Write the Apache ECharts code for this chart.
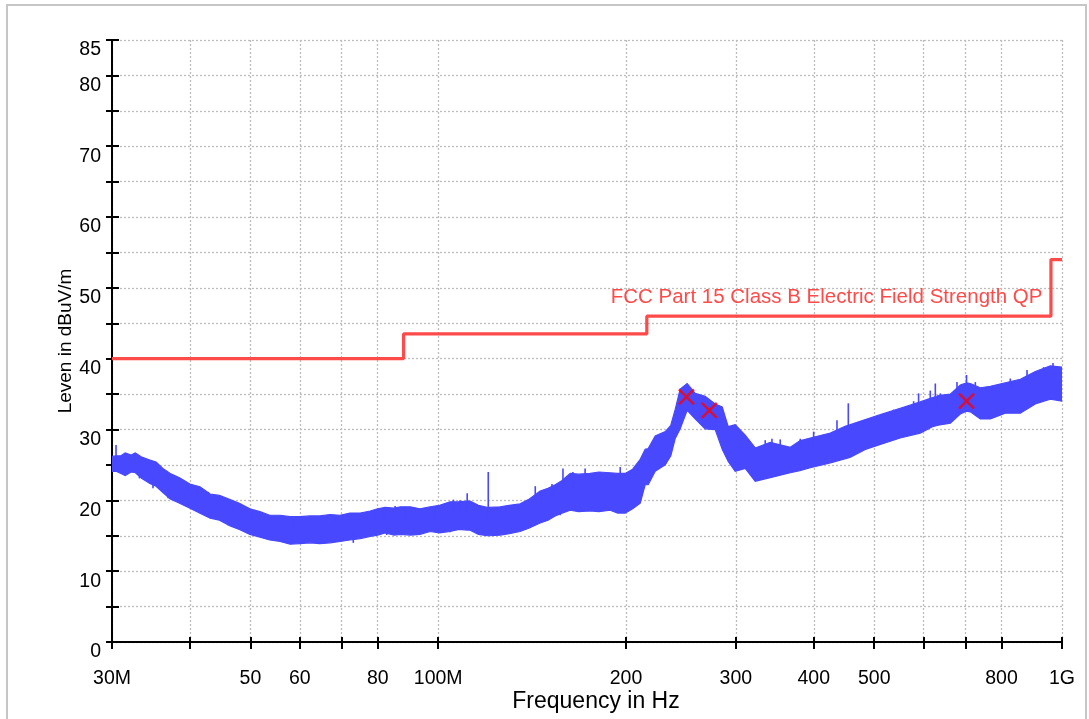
<!DOCTYPE html>
<html><head><meta charset="utf-8">
<script src="https://cdn.jsdelivr.net/npm/echarts@6/dist/echarts.min.js"></script>
<style>html,body{margin:0;padding:0;background:#fff}#c{width:1089px;height:719px}</style>
</head><body><div id="c"></div>
<script>
// Measured trace band (frequency in MHz, level in dBuV/m)
const bandFreq = [30.0,30.45,31.0,31.5,32.2,32.7,33.5,34.5,35.3,36.2,37.2,38.5,40.0,41.5,43.1,44.6,46.4,48.0,49.9,51.8,53.7,55.8,57.9,60.0,62.3,64.6,67.1,69.6,72.2,75.0,77.8,80.0,82.2,85.0,87.0,90.2,93.5,97.1,100.5,104.5,108.0,111.3,112.5,116.0,119.8,120.3,120.8,125.7,130.0,135.3,140.0,145.7,150.0,154.0,158.0,162.8,168.0,175.2,181.0,188.7,194.0,199.4,205.0,210.8,214.7,217.1,222.8,231.2,236.0,239.8,244.3,250.7,258.2,267.9,278.0,285.3,291.7,299.3,310.6,322.3,340.6,366.8,380.0,394.9,425.2,450.0,454.4,458.0,484.0,511.5,550.4,592.6,620.0,626.5,633.0,662.2,687.0,703.0,712.9,739.7,767.6,811.2,857.4,906.2,957.8,1000];
const bandLow  = [24.1,24.1,23.8,23.5,24.0,23.9,23.1,22.4,22.0,21.1,20.2,19.6,18.9,18.2,17.5,17.2,16.4,15.9,15.2,14.8,14.4,14.2,13.8,13.9,14.0,13.9,14.0,14.2,14.4,14.6,14.9,15.1,15.4,15.1,15.2,15.1,15.2,15.6,15.4,15.6,15.9,15.8,15.8,15.2,15.0,15.0,15.0,15.1,15.3,15.6,16.1,16.8,17.2,17.8,18.2,18.6,18.4,18.5,18.4,18.6,18.2,18.2,18.8,19.6,
  22.2,22.2,24.1,25.0,26.3,28.7,30.1,32.7,31.5,30.1,30.0,27.2,25.5,24.1,24.5,22.7,23.2,23.9,24.2,24.6,25.3,25.9,26.0,26.1,27.2,27.9,28.8,29.5,30.4,30.5,30.6,30.9,32.2,32.6,32.5,31.5,31.5,32.3,32.3,33.6,34.3,34.0];
const bandHigh = [26.2,26.3,26.3,26.7,26.4,26.7,26.1,25.7,25.4,24.5,23.8,23.2,22.3,21.9,20.9,20.7,20.1,19.6,18.8,18.4,17.9,17.9,17.7,17.7,17.8,17.8,18.0,17.9,18.2,18.2,18.5,18.8,19.0,18.9,19.1,19.1,18.8,19.1,19.3,19.8,19.8,19.9,19.9,19.3,19.0,19.0,19.0,19.1,19.3,19.5,20.2,21.3,21.7,22.2,22.8,23.8,23.7,23.8,24.0,23.9,23.8,23.8,24.4,25.8,
  27.2,27.3,29.1,29.7,30.6,32.8,35.7,36.5,35.1,34.7,33.6,33.2,30.4,30.7,29.2,27.4,28.2,27.5,28.4,28.8,29.5,30.5,30.6,30.7,31.4,32.1,33.0,33.9,34.5,34.6,34.8,35.0,36.3,36.6,36.5,35.9,36.1,36.6,37.1,38.2,39.0,38.8];
// Individual spikes / dips on the trace: frequency, from level, to level
const spikeFreq = [30.45,31.8,32.6,33.4,34.3,35.6,36.9,38.3,39.7,41.2,42.8,44.1,46.6,48.4,50.2,53.4,56.1,58.5,61.9,65.4,68.3,70.0,74.0,76.7,79.2,82.1,85.3,88.5,98.9,103.9,105.8,108.4,111.3,115.3,120.3,130.4,134.4,143.1,147.5,152.2,158.5,164.4,172.0,177.4,188.7,195.8,
  334.4,342.8,353.4,380.6,399.8,412.4,425.2,435.8,454.4,469.3,480.8,537.0,578.3,589.0,615.0,626.5,638.1,678.7,703.0,726.2,772.3,826.3,878.9,934.3,967.3,
  31.0,33.2,34.9,36.9,39.7,43.3,46.0,49.6,52.7,57.5,61.9,65.8,70.8,73.1,79.2,82.7,91.3,104.5,116.7,124.2,156.9,170.0,176.4,200.7];
const spikeFrom = [25.3,25.2,25.2,24.7,24.3,23.6,22.6,21.9,21.2,20.6,19.8,19.5,18.7,18.2,17.5,16.7,16.6,16.4,16.5,16.5,16.7,16.7,16.9,17.1,17.4,17.6,17.6,17.7,17.8,18.2,18.3,18.4,18.5,17.9,17.7,18.0,18.3,19.4,20.0,20.6,21.5,22.3,22.5,22.5,22.6,22.5,
  27.0,27.2,27.1,27.4,27.9,28.3,28.4,28.7,29.5,30.2,30.3,31.7,32.7,32.8,33.3,33.4,33.8,34.5,35.5,35.2,35.2,35.9,36.6,37.4,37.9,
  24.6,24.2,23.1,21.6,20.1,18.5,17.6,16.4,15.7,15.0,15.0,15.1,15.3,15.5,16.0,16.3,16.2,16.6,16.2,16.1,19.0,19.5,19.5,19.3];
const spikeTo = [27.8,26.4,26.7,25.4,25.2,24.3,23.5,22.4,22.1,21.2,21.2,20.0,19.8,18.6,18.1,17.3,17.2,17.3,16.9,17.9,17.75,17.9,18.0,17.6,18.6,18.8,19.2,19.1,19.0,19.5,20.1,20.0,21.0,18.8,24.0,19.3,19.1,22.0,21.0,22.3,24.5,24.0,24.5,23.5,23.7,24.7,
  28.5,28.7,28.6,28.7,29.7,29.2,29.4,31.3,33.7,30.8,31.1,32.8,34.0,35.1,35.5,36.5,35.1,36.7,37.7,36.7,36.0,37.2,38.4,38.8,39.4,
  24.0,23.1,21.7,20.3,19.4,17.4,16.5,15.3,14.6,14.0,14.1,14.1,14.6,14.0,15.1,15.1,15.1,15.5,15.1,15.3,17.9,18.8,18.7,18.6];
// Limit line (step changes)
const limitFreq  = [30, 88, 216, 960, 1000];
const limitLevel = [40, 43.5, 46, 54, 54];
const limitName = 'FCC Part 15 Class B Electric Field Strength QP';
// Peak markers
const markerFreq  = [250, 272, 703];
const markerLevel = [34.6, 32.7, 34.0];
// Axis ticks / labels
const xTickValues  = [30,40,50,60,70,80,100,200,300,400,500,600,700,800,1000];
const xLabelValues = [30,50,60,80,100,200,300,400,500,800,1000];
const xLabelText   = ['30M','50','60','80','100M','200','300','400','500','800','1G'];
const yLabelValues = [0,10,20,30,40,50,60,70,80,85];

const FONT = '"Liberation Sans", Arial, Helvetica, sans-serif';
const BLUE = '#4848ff', RED = '#ff4a4a';
const chart = echarts.init(document.getElementById('c'), null, {renderer: 'canvas'});
const bandData = bandFreq.map((f, i) => [f, bandLow[i], bandHigh[i]]);
const spikeData = spikeFreq.map((f, i) => [f, spikeFrom[i], spikeTo[i]]);
const gridLine = {show: true, lineStyle: {color: '#bdbdbd', width: 1.3, type: [2, 2]}};

const option = {
  backgroundColor: '#fff',
  animation: false,
  graphic: [{type: 'rect', silent: true, z: -10, shape: {x: 7, y: 5, width: 1079, height: 740},
             style: {fill: 'none', stroke: '#c6c6c6', lineWidth: 2}}],
  grid: {left: 112, right: 27, top: 40, bottom: 77, containLabel: false},
  xAxis: [{
    type: 'log', logBase: 10, min: 30, max: 1000, position: 'bottom',
    name: 'Frequency in Hz', nameLocation: 'middle', nameGap: 48, nameMoveOverlap: false,
    nameTextStyle: {fontSize: 23, color: '#000', fontFamily: FONT, padding: [0, 0, 0, 18]},
    axisLine: {show: true, onZero: false, lineStyle: {color: '#000', width: 2}},
    axisTick: {show: true, inside: false, length: 7, lineStyle: {color: '#000', width: 2}, customValues: xTickValues},
    axisLabel: {show: true, customValues: xLabelValues, margin: 27, fontSize: 19.5, color: '#000', fontFamily: FONT,
      formatter: v => { const i = xLabelValues.findIndex(x => Math.abs(x - v) < 0.01 * x); return i >= 0 ? xLabelText[i] : ''; }},
    splitLine: gridLine, minorTick: {show: false}
  }, {
    type: 'log', logBase: 10, min: 30, max: 1000, position: 'bottom',
    axisLine: {show: false},
    axisTick: {show: true, inside: true, length: 5, lineStyle: {color: '#000', width: 2}, customValues: xTickValues},
    axisLabel: {show: false}, splitLine: {show: false}
  }],
  yAxis: [{
    type: 'value', min: 0, max: 85, interval: 5, position: 'left',
    name: 'Leven in dBuV/m', nameLocation: 'middle', nameGap: 37, nameMoveOverlap: false,
    nameTextStyle: {fontSize: 19, color: '#000', fontFamily: FONT},
    axisLine: {show: true, lineStyle: {color: '#000', width: 2}},
    axisTick: {show: true, inside: false, length: 6, lineStyle: {color: '#000', width: 2}},
    axisLabel: {show: true, margin: 11, fontSize: 19.5, color: '#000', fontFamily: FONT, verticalAlign: 'top',
      formatter: v => yLabelValues.indexOf(v) >= 0 ? String(v) : ''},
    splitLine: gridLine
  }, {
    type: 'value', min: 0, max: 85, interval: 5, position: 'left',
    axisLine: {show: false},
    axisTick: {show: true, inside: true, length: 7, lineStyle: {color: '#000', width: 2}},
    axisLabel: {show: false}, splitLine: {show: false}
  }],
  series: [{
    type: 'custom', name: 'trace', xAxisIndex: 0, yAxisIndex: 0, clip: true, z: 2,
    data: bandData, encode: {x: 0, y: [1, 2]},
    renderItem: (params, api) => {
      if (params.dataIndex !== 0) return null;
      const pts = [];
      for (let i = 0; i < bandFreq.length; i++) pts.push(api.coord([bandFreq[i], bandHigh[i]]));
      for (let i = bandFreq.length - 1; i >= 0; i--) pts.push(api.coord([bandFreq[i], bandLow[i]]));
      return {type: 'polygon', shape: {points: pts}, style: {fill: BLUE, stroke: BLUE, lineWidth: 1.2, lineJoin: 'miter'}};
    }
  }, {
    type: 'custom', name: 'spikes', xAxisIndex: 0, yAxisIndex: 0, clip: true, z: 2,
    data: spikeData, encode: {x: 0, y: [1, 2]},
    renderItem: (params, api) => {
      const a = api.coord([api.value(0), api.value(1)]);
      const b = api.coord([api.value(0), api.value(2)]);
      return {type: 'line', shape: {x1: a[0], y1: a[1], x2: b[0], y2: b[1]}, style: {stroke: BLUE, lineWidth: 1.6}};
    }
  }, {
    type: 'line', name: limitName, xAxisIndex: 0, yAxisIndex: 0, step: 'end', z: 3,
    showSymbol: false, symbol: 'none',
    lineStyle: {color: RED, width: 3.2},
    data: limitFreq.map((f, i) => [f, limitLevel[i]]),
    markPoint: {
      symbol: 'circle', symbolSize: 1, itemStyle: {color: 'rgba(0,0,0,0)'},
      data: [{coord: [limitFreq[3], limitLevel[2]]}],
      label: {show: true, position: 'left', distance: 8, offset: [0, -19], formatter: limitName,
        color: RED, fontSize: 20.5, fontFamily: FONT}
    }
  }, {
    type: 'scatter', name: 'peaks', xAxisIndex: 0, yAxisIndex: 0, z: 4,
    symbol: 'path://M0,0L10,10M10,0L0,10', symbolSize: 15,
    itemStyle: {color: 'rgba(0,0,0,0)', borderColor: '#ff0000', borderWidth: 2.4},
    data: markerFreq.map((f, i) => [f, markerLevel[i]])
  }]
};
chart.setOption(option);
</script></body></html>
